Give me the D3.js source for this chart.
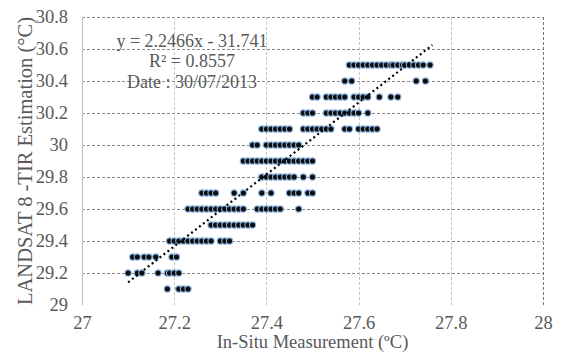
<!DOCTYPE html>
<html>
<head>
<meta charset="utf-8">
<script src="https://cdn.jsdelivr.net/npm/d3@7"></script>
<style>
  html, body { margin: 0; padding: 0; background: #fff; }
  svg, svg text { font-family: "Liberation Serif", "Times New Roman", serif; }
  svg { display: block; }
</style>
</head>
<body>
<svg id="chart" width="562" height="363"></svg>
<script>
// Axis ticks
const xTicks = [27, 27.2, 27.4, 27.6, 27.8, 28];
const yTicks = [29, 29.2, 29.4, 29.6, 29.8, 30, 30.2, 30.4, 30.6, 30.8];

// LANDSAT 8 TIR estimates come in 0.1 °C steps; each level lists the in-situ readings observed at it
const estLevels = [29.1, 29.2, 29.3, 29.4, 29.5, 29.6, 29.7, 29.8, 29.9, 30.0, 30.1, 30.2, 30.3, 30.4, 30.5];
const insituAt291 = [27.185, 27.21, 27.22, 27.23];
const insituAt292 = [27.1, 27.12, 27.13, 27.165, 27.185, 27.19, 27.2, 27.21];
const insituAt293 = [27.11, 27.12, 27.135, 27.145, 27.16, 27.195, 27.205];
const insituAt294 = [27.19, 27.2, 27.21, 27.22, 27.23, 27.24, 27.25, 27.26, 27.27, 27.28, 27.3, 27.31, 27.32];
const insituAt295 = [27.28, 27.29, 27.3, 27.31, 27.32, 27.33, 27.34, 27.35, 27.36, 27.37];
const insituAt296 = [27.23, 27.24, 27.25, 27.26, 27.27, 27.28, 27.29, 27.3, 27.31, 27.32, 27.33, 27.34, 27.35,
                     27.38, 27.39, 27.4, 27.41, 27.42, 27.43, 27.47];
const insituAt297 = [27.26, 27.27, 27.28, 27.29, 27.33, 27.35, 27.39, 27.41, 27.45, 27.46, 27.47, 27.49, 27.5];
const insituAt298 = [27.39, 27.4, 27.41, 27.42, 27.43, 27.44, 27.45, 27.46, 27.48, 27.5];
const insituAt299 = [27.35, 27.36, 27.37, 27.38, 27.39, 27.4, 27.41, 27.42, 27.43, 27.44, 27.45, 27.46, 27.47, 27.48, 27.49, 27.5];
const insituAt300 = [27.37, 27.38, 27.4, 27.41, 27.42, 27.43, 27.44, 27.45, 27.46, 27.47];
const insituAt301 = [27.39, 27.4, 27.41, 27.42, 27.43, 27.44, 27.45, 27.48, 27.49, 27.5, 27.51, 27.52, 27.53, 27.54,
                     27.57, 27.58, 27.6, 27.61, 27.62, 27.63, 27.64];
const insituAt302 = [27.48, 27.49, 27.5, 27.53, 27.54, 27.55, 27.56, 27.57, 27.58, 27.59, 27.6, 27.62];
const insituAt303 = [27.5, 27.51, 27.53, 27.54, 27.55, 27.56, 27.57, 27.59, 27.6, 27.61, 27.62, 27.645, 27.67, 27.685];
const insituAt304 = [27.57, 27.585, 27.725, 27.745];
const insituAt305 = [27.58, 27.59, 27.6, 27.61, 27.62, 27.63, 27.64, 27.65, 27.66, 27.67, 27.675, 27.685, 27.695,
                     27.7, 27.71, 27.72, 27.73, 27.74, 27.755];
const insituByLevel = [insituAt291, insituAt292, insituAt293, insituAt294, insituAt295, insituAt296, insituAt297,
                       insituAt298, insituAt299, insituAt300, insituAt301, insituAt302, insituAt303, insituAt304, insituAt305];

// Linear fit
const fitSlope = 2.2466;
const fitIntercept = -31.741;
const fitRange = [27.1, 27.76];
const fitLabels = ["y = 2.2466x - 31.741", "R² = 0.8557", "Date : 30/07/2013"];

const xTitle = "In-Situ Measurement (ºC)";
const yTitle = "LANDSAT 8 -TIR Estimation (°C)";

const points = [];
estLevels.forEach((lv, i) => insituByLevel[i].forEach(x => points.push({ x, y: lv })));

const svg = d3.select("#chart");
const margin = { left: 82, right: 19, top: 17, bottom: 58 };
const W = 562, H = 363;
const x = d3.scaleLinear().domain([27, 28]).range([margin.left, W - margin.right]);
const y = d3.scaleLinear().domain([29, 30.8]).range([H - margin.bottom, margin.top]);
const textColor = "#595959";
const serif = "'Liberation Serif', 'Times New Roman', serif";

// Horizontal gridlines
svg.append("g")
  .selectAll("line")
  .data(yTicks.filter(t => t > 29))
  .join("line")
  .attr("x1", x(27)).attr("x2", x(28))
  .attr("y1", d => Math.round(y(d)) + 0.5).attr("y2", d => Math.round(y(d)) + 0.5)
  .attr("stroke", "#8a8a8a").attr("stroke-width", 1).attr("stroke-dasharray", "3,2");

// Vertical gridlines
svg.append("g")
  .selectAll("line")
  .data(xTicks.filter(t => t > 27))
  .join("line")
  .attr("x1", d => Math.round(x(d)) + 0.5).attr("x2", d => Math.round(x(d)) + 0.5)
  .attr("y1", y(30.8)).attr("y2", y(29))
  .attr("stroke", d => d === 28 ? "#777" : "#c4c4c4").attr("stroke-width", 1).attr("stroke-dasharray", "3,2");

// Left axis line
svg.append("line")
  .attr("x1", Math.round(x(27)) + 0.5).attr("x2", Math.round(x(27)) + 0.5)
  .attr("y1", y(30.8)).attr("y2", y(29))
  .attr("stroke", "#bfbfbf");

// Tick labels
const yAxis = d3.axisLeft(y).tickValues(yTicks).tickFormat(d3.format("~g")).tickSize(0).tickPadding(14);
const gy = svg.append("g").attr("transform", `translate(${x(27)},0)`).call(yAxis)
  .attr("font-family", serif).attr("font-size", 18.5);
gy.select(".domain").remove();
gy.selectAll("text").attr("fill", textColor);

const xAxis = d3.axisBottom(x).tickValues(xTicks).tickFormat(d3.format("~g")).tickSize(0).tickPadding(11);
const gx = svg.append("g").attr("transform", `translate(0,${y(29)})`).call(xAxis)
  .attr("font-family", serif).attr("font-size", 18.5);
gx.select(".domain").remove();
gx.selectAll("text").attr("fill", textColor);

// Scatter points
svg.append("g")
  .selectAll("circle")
  .data(points)
  .join("circle")
  .attr("cx", d => x(d.x))
  .attr("cy", d => y(d.y))
  .attr("r", 3.1)
  .attr("fill", "#0d0d0d")
  .attr("stroke", "#86aedd")
  .attr("stroke-width", 1.1);

// Trend line
svg.append("line")
  .attr("x1", x(fitRange[0])).attr("y1", y(fitSlope * fitRange[0] + fitIntercept))
  .attr("x2", x(fitRange[1])).attr("y2", y(fitSlope * fitRange[1] + fitIntercept))
  .attr("stroke", "#000").attr("stroke-width", 2.2).attr("stroke-dasharray", "2,3");

// Fit annotation
svg.append("g")
  .attr("font-family", serif)
  .selectAll("text")
  .data(fitLabels)
  .join("text")
  .attr("x", 192)
  .attr("y", (d, i) => [47, 67, 88][i])
  .attr("text-anchor", "middle")
  .attr("fill", textColor)
  .attr("font-size", 18)
  .text(d => d);

// Axis titles
svg.append("text")
  .attr("x", (x(27) + x(28)) / 2)
  .attr("y", 348)
  .attr("text-anchor", "middle")
  .attr("fill", textColor)
  .attr("font-family", serif)
  .attr("font-size", 18.5)
  .text(xTitle);

svg.append("text")
  .attr("transform", `translate(32,${(y(29) + y(30.8)) / 2}) rotate(-90)`)
  .attr("text-anchor", "middle")
  .attr("fill", textColor)
  .attr("font-family", serif)
  .attr("font-size", 20.5)
  .text(yTitle);
</script>
</body>
</html>
